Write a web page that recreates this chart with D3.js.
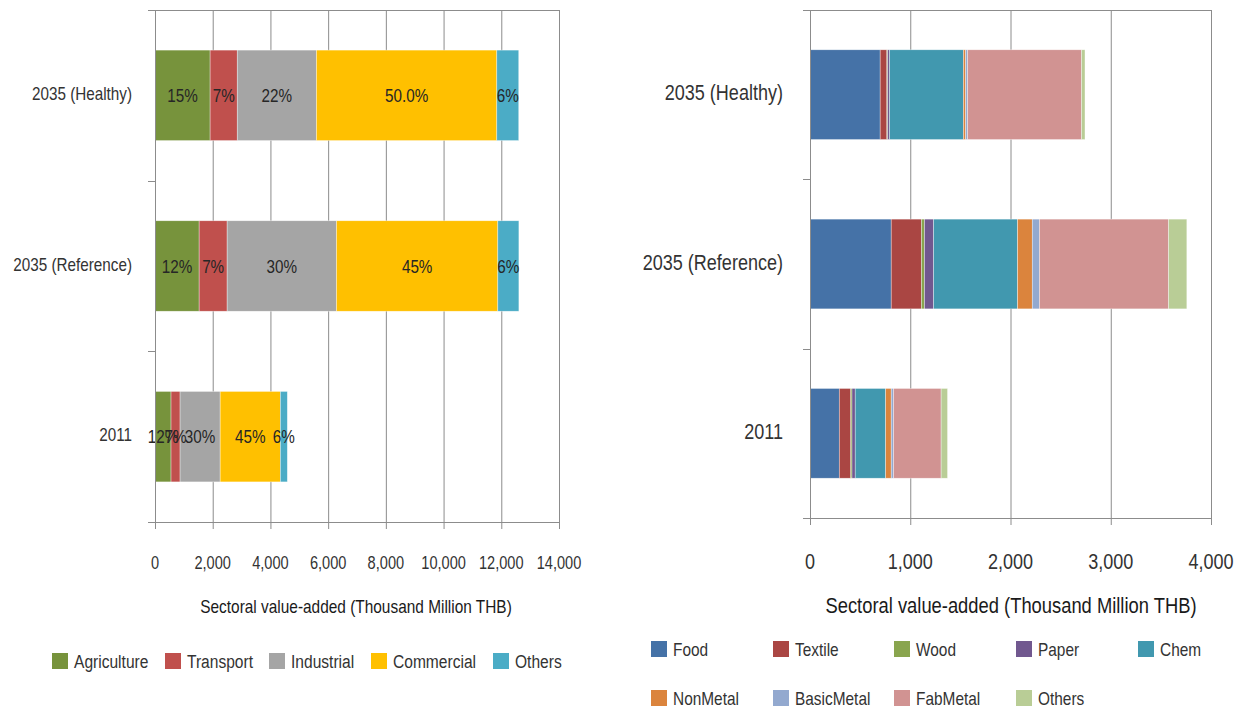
<!DOCTYPE html>
<html>
<head>
<meta charset="utf-8">
<script src="https://cdn.jsdelivr.net/npm/d3@7"></script>
<style>
  html, body { margin: 0; padding: 0; background: #fff; }
  svg { display: block; }
  text { font-family: "Liberation Sans", Arial, sans-serif; fill: #333; }
</style>
</head>
<body>
<svg id="chart" width="1241" height="708"></svg>
<script>
// ---------- Left chart data ----------
const leftCategories = ["2011", "2035 (Reference)", "2035 (Healthy)"];
const leftSeries = ["Agriculture", "Transport", "Industrial", "Commercial", "Others"];
const leftColors = ["#77933C", "#C0504D", "#A5A5A5", "#FFC000", "#4BACC6"];
const agriculture = [556, 1530, 1910];
const transport = [313, 970, 940];
const industrial = [1389, 3790, 2745];
const commercial = [2085, 5590, 6250];
const leftOthers = [243, 730, 760];
const agricultureLabels = ["12%", "12%", "15%"];
const transportLabels = ["7%", "7%", "7%"];
const industrialLabels = ["30%", "30%", "22%"];
const commercialLabels = ["45%", "45%", "50.0%"];
const leftOthersLabels = ["6%", "6%", "6%"];
const leftTicks = [0, 2000, 4000, 6000, 8000, 10000, 12000, 14000];

// ---------- Right chart data ----------
const rightCategories = ["2011", "2035 (Reference)", "2035 (Healthy)"];
const rightSeries = ["Food", "Textile", "Wood", "Paper", "Chem", "NonMetal", "BasicMetal", "FabMetal", "Others"];
const rightColors = ["#4572A7", "#AA4643", "#89A54E", "#71588F", "#4198AF", "#DB843D", "#93A9CF", "#D19392", "#B9CD96"];
const food = [292, 810, 700];
const textile = [115, 301, 67];
const wood = [12, 31, 8];
const paper = [32, 91, 19];
const chem = [304, 838, 736];
const nonMetal = [55, 146, 23];
const basicMetal = [24, 72, 20];
const fabMetal = [474, 1288, 1135];
const rightOthers = [64, 182, 35];
const rightTicks = [0, 1000, 2000, 3000, 4000];

const axisTitle = "Sectoral value-added (Thousand Million THB)";

const svg = d3.select("#chart");
const fmt = d3.format(",");
const gridColor = "#8c8c8c";
const NARROW = 0.82; // emulate a narrow sans face

function place(sel, fx, fy) {
  sel.attr("transform", (d, i) => `translate(${fx(d, i)},${fy(d, i)}) scale(${NARROW},1)`);
  return sel;
}

function drawChart(cfg) {
  const g = svg.append("g");
  const x = d3.scaleLinear().domain([0, cfg.max]).range([cfg.left, cfg.right]);
  const y = d3.scaleBand().domain(cfg.categories.slice().reverse())
    .range([cfg.top, cfg.bottom]).paddingInner(0.47).paddingOuter(0.235);

  // gridlines
  g.append("g").selectAll("line").data(cfg.ticks.slice(1)).join("line")
    .attr("x1", d => x(d) + 0.5).attr("x2", d => x(d) + 0.5)
    .attr("y1", cfg.top).attr("y2", cfg.bottom)
    .attr("stroke", gridColor).attr("stroke-width", 1);
  // top frame line
  g.append("line").attr("x1", cfg.left - 7).attr("x2", x(cfg.max) + 0.5)
    .attr("y1", cfg.top + 0.5).attr("y2", cfg.top + 0.5)
    .attr("stroke", gridColor);

  // stacked data
  const rows = cfg.categories.map((c, i) => {
    const o = { cat: c };
    cfg.series.forEach((s, j) => { o[s] = cfg.values[j][i]; });
    return o;
  });
  const stack = d3.stack().keys(cfg.series)(rows);
  stack.forEach((layer, j) => {
    g.append("g").selectAll("rect").data(layer).join("rect")
      .attr("x", d => x(d[0]))
      .attr("width", d => Math.max(0, x(d[1]) - x(d[0])))
      .attr("y", d => y(d.data.cat))
      .attr("height", y.bandwidth())
      .attr("fill", cfg.colors[j])
      .attr("stroke", "#ffffff").attr("stroke-opacity", 0.6).attr("stroke-width", 0.6);
  });

  // data labels
  if (cfg.labels) {
    stack.forEach((layer, j) => {
      const t = g.append("g").selectAll("text").data(layer).join("text")
        .attr("dy", "0.35em")
        .attr("text-anchor", "middle")
        .attr("font-size", cfg.labelSize)
        .style("fill", "#262626")
        .text((d, i) => cfg.labels[j][i]);
      place(t, d => (x(d[0]) + x(d[1])) / 2, d => y(d.data.cat) + y.bandwidth() / 2);
    });
  }

  // y axis
  g.append("line").attr("x1", cfg.left + 0.5).attr("x2", cfg.left + 0.5)
    .attr("y1", cfg.top).attr("y2", cfg.bottom).attr("stroke", gridColor);
  const step = y.step();
  const boundaries = d3.range(cfg.categories.length + 1).map(i => cfg.top + i * step);
  g.append("g").selectAll("line").data(boundaries).join("line")
    .attr("x1", cfg.left - 7).attr("x2", cfg.left)
    .attr("y1", d => Math.round(d) + 0.5).attr("y2", d => Math.round(d) + 0.5)
    .attr("stroke", gridColor);
  const ct = g.append("g").selectAll("text").data(cfg.categories).join("text")
    .attr("dy", "0.35em")
    .attr("text-anchor", "end")
    .attr("font-size", cfg.fontSize)
    .text(d => d);
  place(ct, () => cfg.catX, d => y(d) + y.bandwidth() / 2 + cfg.catDy);

  // x axis
  g.append("line").attr("x1", cfg.left - 7).attr("x2", x(cfg.max) + 0.5)
    .attr("y1", cfg.bottom + 0.5).attr("y2", cfg.bottom + 0.5).attr("stroke", gridColor);
  g.append("g").selectAll("line").data(cfg.ticks).join("line")
    .attr("x1", d => x(d) + 0.5).attr("x2", d => x(d) + 0.5)
    .attr("y1", cfg.bottom).attr("y2", cfg.bottom + 7).attr("stroke", gridColor);
  const tt = g.append("g").selectAll("text").data(cfg.ticks).join("text")
    .attr("dy", "0.35em")
    .attr("text-anchor", "middle")
    .attr("font-size", cfg.tickSize)
    .text(d => fmt(d));
  place(tt, d => x(d), () => cfg.tickY);
  const title = g.append("text").datum(0)
    .attr("dy", "0.35em")
    .attr("text-anchor", "middle")
    .attr("font-size", cfg.titleSize)
    .style("fill", "#1a1a1a")
    .text(axisTitle);
  place(title, () => cfg.titleX, () => cfg.titleY);

  // legend
  const lg = g.append("g");
  cfg.series.forEach((s, j) => {
    const pos = cfg.legendPos[j];
    lg.append("rect").attr("x", pos[0]).attr("y", pos[1] - cfg.legendSq / 2)
      .attr("width", cfg.legendSq).attr("height", cfg.legendSq).attr("fill", cfg.colors[j]);
    const lt = lg.append("text").datum(s)
      .attr("dy", "0.35em").attr("font-size", cfg.legendSize).text(s);
    place(lt, () => pos[0] + cfg.legendSq + 6, () => pos[1]);
  });
}

drawChart({
  categories: leftCategories, series: leftSeries, colors: leftColors,
  values: [agriculture, transport, industrial, commercial, leftOthers],
  labels: [agricultureLabels, transportLabels, industrialLabels, commercialLabels, leftOthersLabels],
  ticks: leftTicks, max: 14000,
  left: 155, right: 559, top: 10, bottom: 522,
  catX: 132, catDy: -2, fontSize: 18.6, labelSize: 18.6, tickSize: 17.8,
  tickY: 563, titleX: 356, titleY: 606, titleSize: 18.8,
  legendSq: 16, legendSize: 19,
  legendPos: [[52, 661], [165, 661], [269, 661], [371, 661], [493, 661]]
});

drawChart({
  categories: rightCategories, series: rightSeries, colors: rightColors,
  values: [food, textile, wood, paper, chem, nonMetal, basicMetal, fabMetal, rightOthers],
  labels: null,
  ticks: rightTicks, max: 4000,
  left: 810, right: 1211, top: 10, bottom: 518,
  catX: 783, catDy: -2, fontSize: 22, labelSize: 18, tickSize: 22,
  tickY: 561, titleX: 1011, titleY: 605, titleSize: 22.4,
  legendSq: 16, legendSize: 18.8,
  legendPos: [[651, 649], [773, 649], [894, 649], [1016, 649], [1138, 649],
              [651, 698], [773, 698], [894, 698], [1016, 698]]
});
</script>
</body>
</html>
